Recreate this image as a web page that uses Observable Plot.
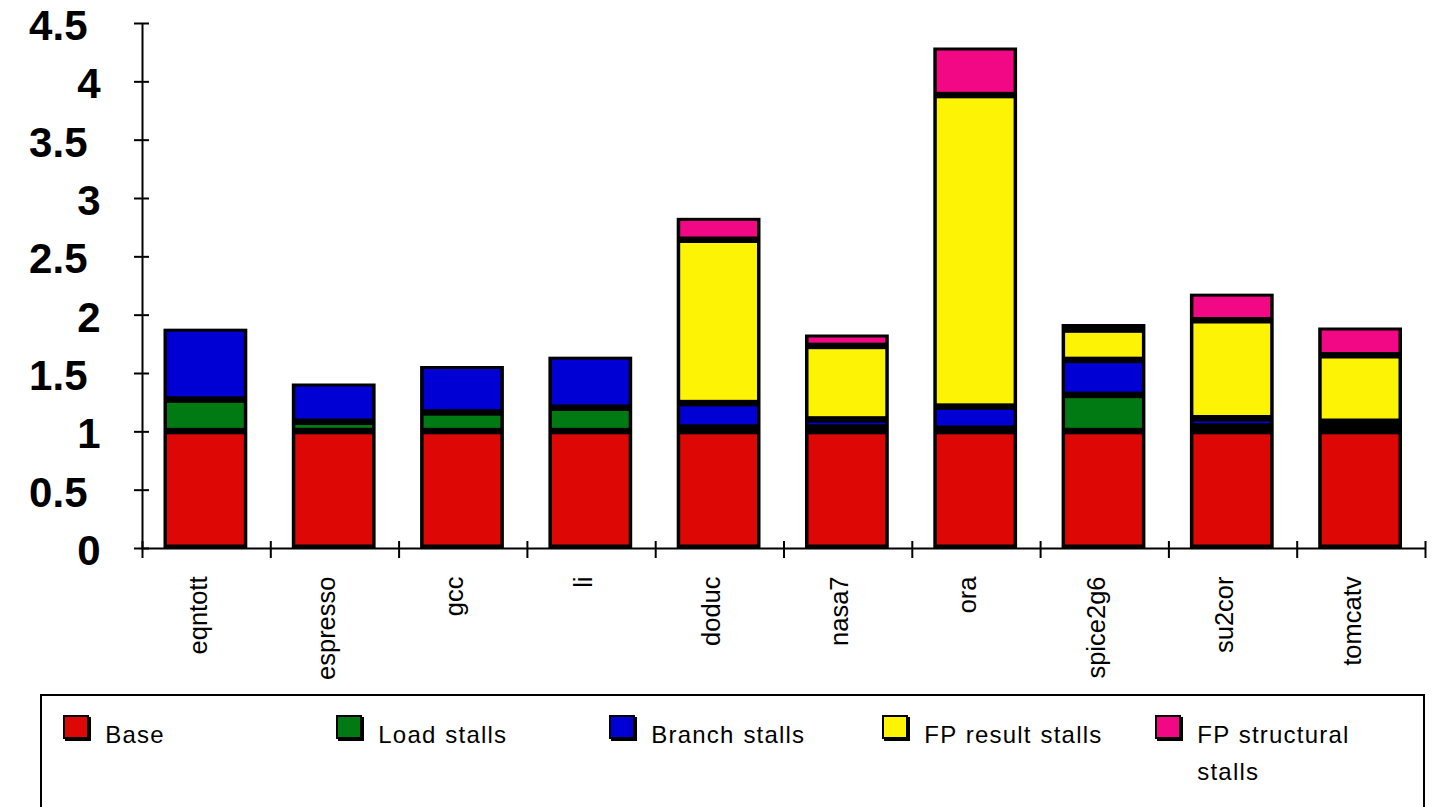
<!DOCTYPE html>
<html>
<head>
<meta charset="utf-8">
<script src="https://cdn.jsdelivr.net/npm/d3@7"></script>
<script src="https://cdn.jsdelivr.net/npm/@observablehq/plot@0.6"></script>
<style>
  body { margin: 0; background: #fff; font-family: "Liberation Sans", Arial, Helvetica, sans-serif; }
  #wrap { position: relative; width: 1437px; height: 807px; overflow: hidden; background: #fff; }
  #chart svg { display: block; }
  g[aria-label="y-labels"] text { letter-spacing: 5.5px; }
  #legend { position: absolute; left: 40px; top: 694px; width: 1385px; height: 200px;
            border: 2.7px solid #000; box-sizing: border-box; }
  .sw { position: absolute; width: 26px; height: 24px; box-sizing: border-box;
        border: 2px solid #000; box-shadow: 2px 2px 0 #000; }
  .lab { position: absolute; font-size: 24px; line-height: 37px; letter-spacing: 1.2px; word-spacing: 1px; color: #000; }
</style>
</head>
<body>
<div id="wrap">
  <div id="chart"></div>
  <div id="legend"></div>
</div>
<script>
// ---- data ----
const categories = ["eqntott", "espresso", "gcc", "li", "doduc", "nasa7", "ora", "spice2g6", "su2cor", "tomcatv"];
const base               = [1.00, 1.00, 1.00, 1.00, 1.00, 1.00, 1.00, 1.00, 1.00, 1.00];
const loadStalls         = [0.27, 0.08, 0.16, 0.20, 0.03, 0.03, 0.02, 0.31, 0.04, 0.05];
const branchStalls       = [0.61, 0.33, 0.40, 0.44, 0.21, 0.07, 0.19, 0.30, 0.07, 0.03];
const fpResultStalls     = [0.00, 0.00, 0.00, 0.00, 1.40, 0.63, 2.67, 0.26, 0.84, 0.57];
const fpStructuralStalls = [0.00, 0.00, 0.00, 0.00, 0.19, 0.10, 0.41, 0.05, 0.23, 0.24];
const seriesNames  = ["Base", "Load stalls", "Branch stalls", "FP result stalls", "FP structural stalls"];
const seriesColors = ["#dd0806", "#017a13", "#0000d4", "#fcf305", "#f20884"];
const yIntegerTicks = [0, 1, 2, 3, 4];
const yHalfTicks    = [0.5, 1.5, 2.5, 3.5, 4.5];
const yIntegerLabels = ["0", "1", "2", "3", "4"];
const yHalfLabels    = ["0.5", "1.5", "2.5", "3.5", "4.5"];

// ---- derived tables ----
const seriesValues = [base, loadStalls, branchStalls, fpResultStalls, fpStructuralStalls];
const segments = [];
const totals = [];
categories.forEach((cat, i) => {
  let acc = 0;
  seriesValues.forEach((vals, s) => {
    segments.push({i, cat, series: seriesNames[s], y1: acc, y2: acc + vals[i]});
    acc += vals[i];
  });
  totals.push({i, cat, total: acc});
});
const allTicks = yIntegerTicks.concat(yHalfTicks);
const boundaries = d3.range(categories.length + 1);

const chart = Plot.plot({
  width: 1437,
  height: 692,
  marginLeft: 142,
  marginRight: 12,
  marginTop: 23,
  marginBottom: 144,
  style: {background: "white", overflow: "visible", fontFamily: "'Liberation Sans', Arial, Helvetica, sans-serif"},
  x: {type: "linear", domain: [0, categories.length]},
  y: {domain: [0, 4.5]},
  color: {domain: seriesNames, range: seriesColors},
  marks: [
    // black body of each stacked bar (acts as the outlines)
    Plot.rect(totals, {x1: d => d.i, x2: d => d.i + 1, y1: 0, y2: "total",
      fill: "black", insetLeft: 21.5, insetRight: 23}),
    // coloured segments
    Plot.rect(segments.filter(d => d.y2 > d.y1), {x1: d => d.i, x2: d => d.i + 1, y1: "y1", y2: "y2",
      fill: "series", insetLeft: 25, insetRight: 26.5, insetTop: 3, insetBottom: 3.5}),
    // axis lines
    Plot.ruleY([0], {stroke: "black", strokeWidth: 2}),
    Plot.ruleX([0], {stroke: "black", strokeWidth: 2}),
    // y ticks crossing the axis
    Plot.axisY({ticks: allTicks, tickSize: 15, dx: 7, tickFormat: () => "", strokeWidth: 2, label: null}),
    // x ticks at category boundaries
    Plot.axisX({ticks: boundaries, tickSize: 17, dy: -7, tickFormat: () => "", strokeWidth: 2, label: null}),
    // y labels
    Plot.text(yIntegerTicks, {y: d => d, text: (d, i) => yIntegerLabels[i], frameAnchor: "left",
      textAnchor: "end", dx: -42, dy: 3, fontSize: 42, fontWeight: "bold", fill: "black", ariaLabel: "y-labels"}),
    Plot.text(yHalfTicks, {y: d => d, text: (d, i) => yHalfLabels[i], frameAnchor: "left",
      textAnchor: "end", dx: -55, dy: 3, fontSize: 42, fontWeight: "bold", fill: "black", ariaLabel: "y-labels"}),
    // category labels
    Plot.text(categories, {x: (d, i) => i + 0.5, text: d => d, frameAnchor: "bottom",
      rotate: -90, textAnchor: "end", dy: 28, fontSize: 25.5, fill: "black"})
  ]
});
document.getElementById("chart").appendChild(chart);

// ---- legend ----
const legend = document.getElementById("legend");
const labelWidths = [200, 200, 200, 230, 170];
seriesNames.forEach((name, k) => {
  const left = 21.3 + k * 273;
  const sw = document.createElement("div");
  sw.className = "sw";
  sw.style.left = left + "px";
  sw.style.top = "19.3px";
  sw.style.background = seriesColors[k];
  legend.appendChild(sw);
  const lab = document.createElement("div");
  lab.className = "lab";
  lab.style.left = (left + 42) + "px";
  lab.style.top = "19.5px";
  lab.style.width = labelWidths[k] + "px";
  lab.textContent = name;
  legend.appendChild(lab);
});
</script>
</body>
</html>
